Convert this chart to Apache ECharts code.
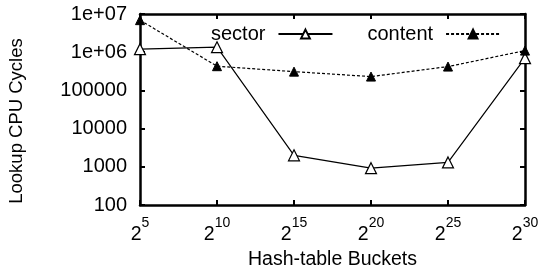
<!DOCTYPE html>
<html><head><meta charset="utf-8">
<script src="https://cdn.jsdelivr.net/npm/echarts@6/dist/echarts.min.js"></script>
<style>html,body{margin:0;padding:0;background:#fff}#c{width:540px;height:269px}</style>
</head><body><div id="c"></div>
<script>
const exponents = [5, 10, 15, 20, 25, 30];
const sectorValues = [1.2e6, 1.35e6, 2000, 920, 1300, 7e5];
const contentValues = [6.9e6, 4.3e5, 3.1e5, 2.3e5, 4.2e5, 1.1e6];
const yTickLabels = {100: '100', 1000: '1000', 10000: '10000', 100000: '100000', 1000000: '1e+06', 10000000: '1e+07'};
const yTitle = 'Lookup CPU Cycles';
const xTitle = 'Hash-table Buckets';
const font = 'Liberation Sans, Arial, sans-serif';

const chart = echarts.init(document.getElementById('c'));
const axisLine = {show: true, lineStyle: {color: '#000', width: 2.5}};
const tick = {inside: true, length: 5, lineStyle: {color: '#000', width: 2}};
chart.setOption({
  animation: false,
  grid: {left: 140, right: 15, top: 14, bottom: 64, containLabel: false, outerBoundsMode: 'none'},
  graphic: [{
    type: 'text', x: 17, y: 121, rotation: Math.PI / 2,
    style: {text: yTitle, fontFamily: font, fontSize: 18.5, fill: '#000', align: 'center', verticalAlign: 'middle'}
  }],
  legend: {
    left: 206, top: 19, align: 'right', itemWidth: 54, itemHeight: 11, itemGap: 34,
    textStyle: {fontFamily: font, fontSize: 20, color: '#000', padding: [0, 8, 0, 0]},
    data: ['sector', 'content']
  },
  xAxis: [{
    type: 'value', min: 5, max: 30, interval: 5,
    name: xTitle, nameLocation: 'middle', nameGap: 44,
    nameTextStyle: {fontFamily: font, fontSize: 19.5, color: '#000'},
    axisLine, splitLine: {show: false}, axisTick: tick,
    axisLabel: {
      margin: 11,
      formatter: v => '{b|2}{s|' + v + '}',
      rich: {
        b: {fontFamily: font, fontSize: 19.5, color: '#000', verticalAlign: 'bottom', padding: [9, 0, 0, 0]},
        s: {fontFamily: font, fontSize: 14, color: '#000', verticalAlign: 'top'}
      }
    }
  }, {
    type: 'value', min: 5, max: 30, interval: 5, position: 'top',
    axisLine, splitLine: {show: false}, axisLabel: {show: false}, axisTick: tick
  }],
  yAxis: [{
    type: 'log', logBase: 10, min: 100, max: 1e7,
    axisLine, splitLine: {show: false}, minorTick: {show: false}, axisTick: tick,
    axisLabel: {fontFamily: font, fontSize: 20, color: '#000', margin: 13,
      formatter: v => yTickLabels[Math.round(v)] || ''}
  }, {
    type: 'log', logBase: 10, min: 100, max: 1e7, position: 'right',
    axisLine, splitLine: {show: false}, axisLabel: {show: false}, axisTick: tick
  }],
  series: [{
    name: 'sector', type: 'line',
    data: exponents.map((e, i) => [e, sectorValues[i]]),
    symbol: 'triangle', symbolSize: 11,
    lineStyle: {color: '#000', width: 1.2},
    itemStyle: {color: '#fff', borderColor: '#000', borderWidth: 1.2}
  }, {
    name: 'content', type: 'line',
    data: exponents.map((e, i) => [e, contentValues[i]]),
    symbol: 'triangle', symbolSize: 9,
    lineStyle: {color: '#000', width: 1.2, type: [3, 2]},
    itemStyle: {color: '#000', borderColor: '#000', borderWidth: 1}
  }]
});
</script></body></html>
